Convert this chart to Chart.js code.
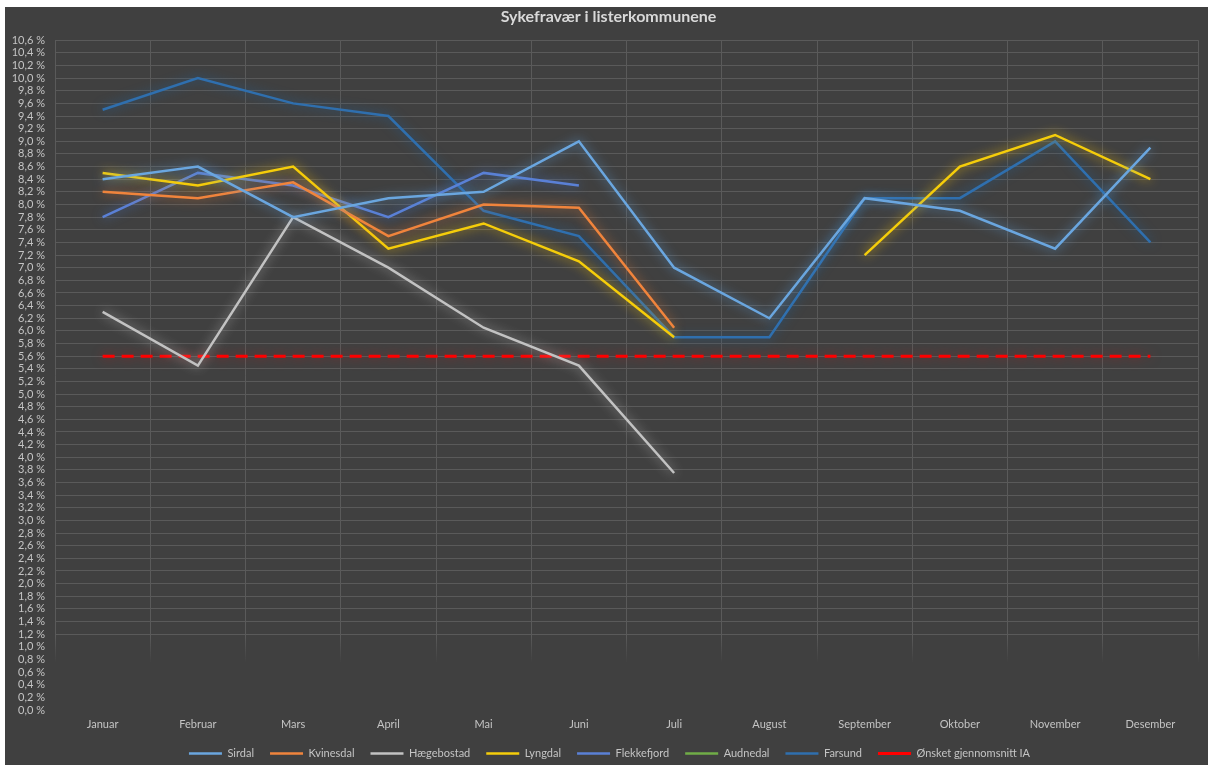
<!DOCTYPE html>
<html>
<head>
<meta charset="utf-8">
<script src="https://cdn.jsdelivr.net/npm/chart.js@4.4.0/dist/chart.umd.min.js"></script>
<style>
  html, body { margin: 0; padding: 0; background: #ffffff; }
  #wrap { position: absolute; left: 5px; top: 7px; width: 1203px; height: 758px; background: #404040; }
</style>
</head>
<body>
<div id="wrap"><canvas id="sykefravaer"></canvas></div>
<script>
// data (percent)
var months = ['Januar', 'Februar', 'Mars', 'April', 'Mai', 'Juni', 'Juli', 'August', 'September', 'Oktober', 'November', 'Desember'];
var sirdal = [8.4, 8.6, 7.8, 8.1, 8.2, 9.0, 7.0, 6.2, 8.1, 7.9, 7.3, 8.9];
var kvinesdal = [8.2, 8.1, 8.35, 7.5, 8.0, 7.95, 6.05, null, null, null, null, null];
var haegebostad = [6.3, 5.45, 7.8, 7.0, 6.05, 5.45, 3.75, null, null, null, null, null];
var lyngdal = [8.5, 8.3, 8.6, 7.3, 7.7, 7.1, 5.9, null, 7.2, 8.6, 9.1, 8.4];
var flekkefjord = [7.8, 8.5, 8.3, 7.8, 8.5, 8.3, null, null, null, null, null, null];
var audnedal = [null, null, null, null, null, null, null, null, null, null, null, null];
var farsund = [9.5, 10.0, 9.6, 9.4, 7.9, 7.5, 5.9, 5.9, 8.1, 8.1, 9.0, 7.4];
var maalIA = [5.6, 5.6, 5.6, 5.6, 5.6, 5.6, 5.6, 5.6, 5.6, 5.6, 5.6, 5.6];

var gridColor = '#5a5a5a';
var textColor = '#c4c4c4';

function serie(label, data, color, glow) {
    return {
        label: label,
        data: data,
        borderColor: color,
        backgroundColor: color,
        borderWidth: 2.5,
        pointRadius: 0,
        pointHoverRadius: 0,
        tension: 0,
        spanGaps: false,
        glow: glow
    };
}

// Excel-style glow round each line
var glowPlugin = {
    id: 'glow',
    afterLayout: function (chart) {
        // title and legend sit a little right of the canvas centre in the original
        chart.titleBlock.left += 14;
        chart.legend.left += 16;
    },
    beforeDatasetDraw: function (chart, args) {
        var ds = chart.data.datasets[args.index];
        chart.ctx.save();
        if (ds.glow) {
            chart.ctx.shadowColor = ds.glow;
            chart.ctx.shadowBlur = 11;
        }
    },
    afterDatasetDraw: function (chart) {
        chart.ctx.restore();
    }
};

var maal = serie('Ønsket gjennomsnitt IA', maalIA, '#ff0000', 'rgba(255,0,0,0.5)');
maal.borderDash = [12, 7];
maal.borderWidth = 3;

var ctx = document.getElementById('sykefravaer').getContext('2d');
var chart = new Chart(ctx, {
    type: 'line',
    data: {
        labels: months,
        datasets: [
            serie('Sirdal', sirdal, '#6aa6df', 'rgba(91,155,213,0.9)'),
            serie('Kvinesdal', kvinesdal, '#f0843c', 'rgba(237,125,49,0.8)'),
            serie('Hægebostad', haegebostad, '#c2c2c2', 'rgba(210,210,210,0.7)'),
            serie('Lyngdal', lyngdal, '#f5cd0a', 'rgba(255,200,0,0.9)'),
            serie('Flekkefjord', flekkefjord, '#5a80d6', 'rgba(68,114,196,0.9)'),
            serie('Audnedal', audnedal, '#70ad47', 'rgba(112,173,71,0.7)'),
            serie('Farsund', farsund, '#2f6fae', 'rgba(37,94,145,1)'),
            maal
        ]
    },
    plugins: [glowPlugin],
    options: {
        responsive: true,
        maintainAspectRatio: false,
        animation: false,
        events: [],
        layout: {
            padding: { left: 0, right: 10, top: 0, bottom: -4 }
        },
        plugins: {
            title: {
                display: true,
                text: 'Sykefravær i listerkommunene',
                color: '#d9d9d9',
                font: { family: 'Lato', size: 16, weight: 'bold' },
                padding: { top: 0, bottom: 14 }
            },
            legend: {
                position: 'bottom',
                labels: {
                    color: textColor,
                    font: { family: 'Lato', size: 11 },
                    usePointStyle: true,
                    pointStyle: 'line',
                    pointStyleWidth: 33,
                    boxHeight: 10,
                    padding: 16
                }
            },
            tooltip: { enabled: false }
        },
        scales: {
            x: {
                type: 'category',
                offset: true,
                grid: {
                    offset: true,
                    drawTicks: false,
                    color: function (c) {
                        var area = c.chart.chartArea;
                        if (!area) return gridColor;
                        var g = c.chart.ctx.createLinearGradient(0, area.top, 0, area.bottom);
                        g.addColorStop(0, gridColor);
                        g.addColorStop(0.89, gridColor);
                        g.addColorStop(0.93, 'rgba(90,90,90,0)');
                        g.addColorStop(1, 'rgba(90,90,90,0)');
                        return g;
                    }
                },
                border: { display: false },
                ticks: {
                    color: textColor,
                    font: { family: 'Lato', size: 11 },
                    padding: 8,
                    maxRotation: 0
                },
                afterFit: function (scale) { scale.height = 22; }
            },
            y: {
                min: 0,
                max: 10.6,
                grid: {
                    drawTicks: false,
                    color: function (c) {
                        return c.tick && c.tick.value < 1.1 ? 'rgba(0,0,0,0)' : gridColor;
                    }
                },
                border: { display: false },
                ticks: {
                    stepSize: 0.2,
                    autoSkip: false,
                    color: textColor,
                    font: { family: 'Lato', size: 11 },
                    padding: 10,
                    callback: function (v) {
                        return v.toFixed(1).replace('.', ',') + ' %';
                    }
                },
                afterFit: function (scale) { scale.width = 50; }
            }
        }
    }
});
</script>
</body>
</html>
